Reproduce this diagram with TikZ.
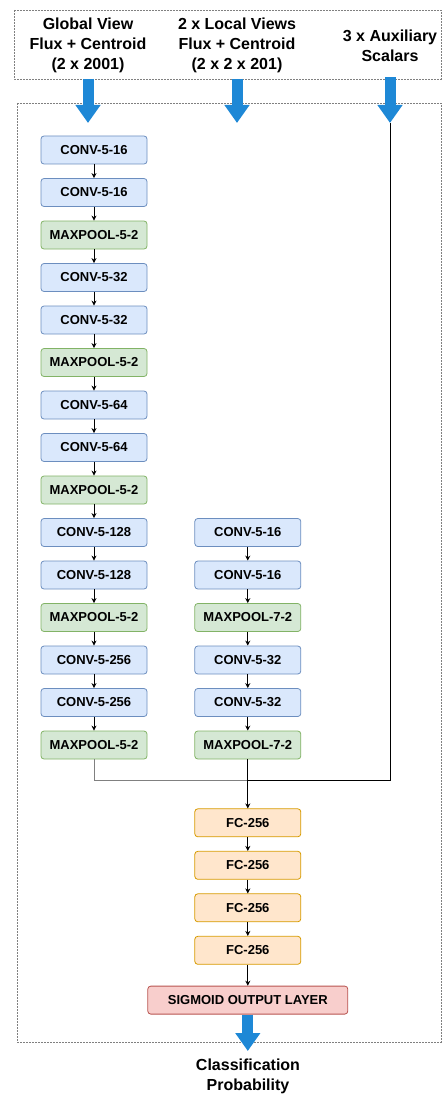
\documentclass[tikz,border=0pt]{standalone}
\usepackage{fontspec}
\setmainfont{Liberation Sans}
\usetikzlibrary{arrows.meta,positioning}
\definecolor{convfill}{HTML}{DAE8FC}
\definecolor{convdraw}{HTML}{6C8EBF}
\definecolor{poolfill}{HTML}{D5E8D4}
\definecolor{pooldraw}{HTML}{82B366}
\definecolor{fcfill}{HTML}{FFE6CC}
\definecolor{fcdraw}{HTML}{D79B00}
\definecolor{sigfill}{HTML}{F8CECC}
\definecolor{sigdraw}{HTML}{B85450}
\definecolor{flowblue}{HTML}{1E88D6}
\tikzset{
  layer/.style={draw, rounded corners=3pt, align=center, minimum width=106pt, minimum height=28pt, inner sep=2pt, line width=0.8pt, font=\bfseries\fontsize{13}{15}\selectfont},
  convbox/.style={layer, fill=convfill, draw=convdraw},
  poolbox/.style={layer, fill=poolfill, draw=pooldraw},
  fcbox/.style={layer, fill=fcfill, draw=fcdraw},
  sigbox/.style={layer, fill=sigfill, draw=sigdraw, minimum width=200pt},
  title/.style={align=center, font=\bfseries\fontsize{16}{20}\selectfont},
  line/.style={-{Stealth[length=5pt,width=5pt]}, line width=0.8pt},
  flow/.style={-{Triangle[length=18pt,width=24pt]}, line width=11pt, draw=flowblue},
  frame/.style={draw=gray, dash pattern=on 2pt off 1pt, line width=0.6pt}
}
\begin{document}
\begin{tikzpicture}[x=1pt, y=1pt, node distance=13.7pt]
        \useasboundingbox (0,0) rectangle (442,-1094);
        \draw[frame] (14,-10) rectangle (441,-79);
        \draw[frame] (17,-103) rectangle (441,-1042);
        \node[title] (gview) at (88,-45) {Global View\\Flux + Centroid\\(2 x 2001)};
        \node[title] (lview) at (237,-45) {2 x Local Views\\Flux + Centroid\\(2 x 2 x 201)};
        \node[title] (aux) at (390,-46) {3 x Auxiliary\\Scalars};
        \coordinate (gin) at (88,-123);
        \coordinate (lin) at (237,-123);
        \coordinate (ain) at (390,-123);
        \draw[flow, shorten <=3pt] (gview) -- (gin);
        \draw[flow, shorten <=3pt] (lview) -- (lin);
        \draw[flow, shorten <=12pt] (aux) -- (ain);
        \node[convbox] (g1) at (94,-150) {CONV-5-16};
        \node[convbox, below=of g1] (g2) {CONV-5-16};
        \draw[line] (g1) -- (g2);
        \node[poolbox, below=of g2] (g3) {MAXPOOL-5-2};
        \draw[line] (g2) -- (g3);
        \node[convbox, below=of g3] (g4) {CONV-5-32};
        \draw[line] (g3) -- (g4);
        \node[convbox, below=of g4] (g5) {CONV-5-32};
        \draw[line] (g4) -- (g5);
        \node[poolbox, below=of g5] (g6) {MAXPOOL-5-2};
        \draw[line] (g5) -- (g6);
        \node[convbox, below=of g6] (g7) {CONV-5-64};
        \draw[line] (g6) -- (g7);
        \node[convbox, below=of g7] (g8) {CONV-5-64};
        \draw[line] (g7) -- (g8);
        \node[poolbox, below=of g8] (g9) {MAXPOOL-5-2};
        \draw[line] (g8) -- (g9);
        \node[convbox, below=of g9] (g10) {CONV-5-128};
        \draw[line] (g9) -- (g10);
        \node[convbox, below=of g10] (g11) {CONV-5-128};
        \draw[line] (g10) -- (g11);
        \node[poolbox, below=of g11] (g12) {MAXPOOL-5-2};
        \draw[line] (g11) -- (g12);
        \node[convbox, below=of g12] (g13) {CONV-5-256};
        \draw[line] (g12) -- (g13);
        \node[convbox, below=of g13] (g14) {CONV-5-256};
        \draw[line] (g13) -- (g14);
        \node[poolbox, below=of g14] (g15) {MAXPOOL-5-2};
        \draw[line] (g14) -- (g15);
        \node[convbox, right=47pt of g10] (l1) {CONV-5-16};
        \node[convbox, below=of l1] (l2) {CONV-5-16};
        \draw[line] (l1) -- (l2);
        \node[poolbox, below=of l2] (l3) {MAXPOOL-7-2};
        \draw[line] (l2) -- (l3);
        \node[convbox, below=of l3] (l4) {CONV-5-32};
        \draw[line] (l3) -- (l4);
        \node[convbox, below=of l4] (l5) {CONV-5-32};
        \draw[line] (l4) -- (l5);
        \node[poolbox, below=of l5] (l6) {MAXPOOL-7-2};
        \draw[line] (l5) -- (l6);
        \node[fcbox, below=49pt of l6] (fc1) {FC-256};
        \coordinate (merge) at (l6.south |- 0,-780);
        \draw[gray, line width=0.8pt] (g15) |- (merge);
        \draw[line width=0.8pt] (ain) |- (merge);
        \draw[line] (l6) -- (fc1);
        \node[fcbox, below=of fc1] (fc2) {FC-256};
        \draw[line] (fc1) -- (fc2);
        \node[fcbox, below=of fc2] (fc3) {FC-256};
        \draw[line] (fc2) -- (fc3);
        \node[fcbox, below=of fc3] (fc4) {FC-256};
        \draw[line] (fc3) -- (fc4);
        \node[sigbox, below=21pt of fc4] (sig) {SIGMOID OUTPUT LAYER};
        \draw[line] (fc4) -- (sig);
        \coordinate (pout) at (sig.south |- 0,-1051);
        \draw[flow] (sig) -- (pout);
        \node[title] (prob) at (248,-1076) {Classification\\Probability};
      \end{tikzpicture}
\end{document}
